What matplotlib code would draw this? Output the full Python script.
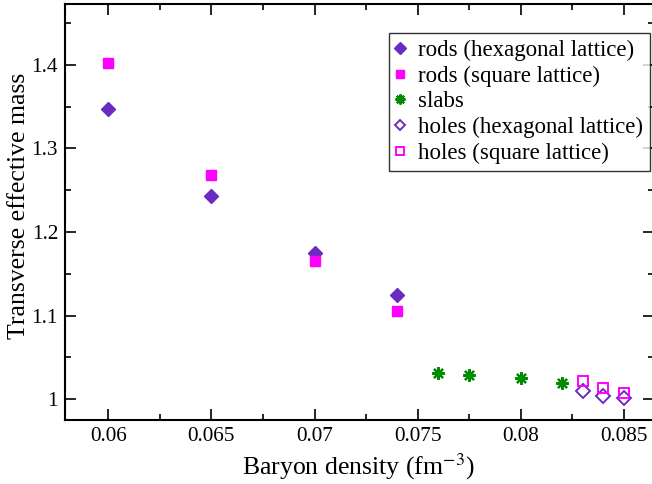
import numpy as np
import matplotlib.pyplot as plt
from matplotlib.ticker import MultipleLocator

# data
rods_hex_x = [0.06, 0.065, 0.07, 0.074]
rods_hex_y = [1.347, 1.243, 1.175, 1.125]
rods_sq_x = [0.06, 0.065, 0.07, 0.074]
rods_sq_y = [1.402, 1.268, 1.165, 1.105]
slabs_x = [0.076, 0.0775, 0.08, 0.082]
slabs_y = [1.031, 1.029, 1.025, 1.019]
holes_hex_x = [0.083, 0.084, 0.085]
holes_hex_y = [1.010, 1.004, 1.001]
holes_sq_x = [0.083, 0.084, 0.085]
holes_sq_y = [1.022, 1.013, 1.007]

purple = '#6a2cc0'
magenta = '#ff00ff'
green = '#008a00'

plt.rcParams['font.family'] = ['Liberation Serif', 'DejaVu Serif']
plt.rcParams['mathtext.fontset'] = 'stix'

fig = plt.figure(figsize=(6.52, 4.84), dpi=100)
ax = fig.add_axes([0.0997, 0.132, 0.9036, 0.860])

asterisk = (8, 2, 0)
ax.plot(rods_hex_x, rods_hex_y, 'D', color=purple, ms=7.5, ls='none', label='rods (hexagonal lattice)')
ax.plot(rods_sq_x, rods_sq_y, 's', color=magenta, ms=7, ls='none', label='rods (square lattice)')
ax.plot(slabs_x, slabs_y, marker=asterisk, color=green, mec=green, mew=1.6, ms=9, ls='none', label='slabs')
ax.plot(holes_hex_x, holes_hex_y, 'D', mfc='none', mec=purple, mew=1.4, ms=7, ls='none', label='holes (hexagonal lattice)')
ax.plot(holes_sq_x, holes_sq_y, 's', mfc='none', mec=magenta, mew=1.4, ms=7, ls='none', label='holes (square lattice)')

ax.set_xlim(0.0579, 0.08646)
ax.set_ylim(0.975, 1.473)
ax.xaxis.set_minor_locator(MultipleLocator(0.0025))
ax.yaxis.set_minor_locator(MultipleLocator(0.05))
ax.set_xticks([0.06, 0.065, 0.07, 0.075, 0.08, 0.085])
ax.set_xticklabels(['0.06', '0.065', '0.07', '0.075', '0.08', '0.085'])
ax.set_yticks([1.0, 1.1, 1.2, 1.3, 1.4])
ax.set_yticklabels(['1', '1.1', '1.2', '1.3', '1.4'])
ax.tick_params(which='both', direction='in', top=True, right=True, labelsize=15.3, width=1.2)
ax.tick_params(which='major', length=8, pad=5)
ax.tick_params(which='minor', length=4.5)
for s in ax.spines.values():
    s.set_linewidth(1.5)

ax.set_xlabel('Baryon density (fm$^{-3}$)', fontsize=18.5)
ax.xaxis.set_label_coords(0.497, -0.075)
ax.set_ylabel('Transverse effective mass', fontsize=18.5)
ax.yaxis.set_label_coords(-0.0594, 0.514)

leg = ax.legend(loc='upper right', bbox_to_anchor=(0.9935, 0.930), fontsize=16.5, frameon=True,
                fancybox=False, edgecolor='black', handlelength=0.4, handletextpad=0.6,
                labelspacing=0.2, borderpad=0.3, borderaxespad=0, markerscale=0.8)
leg.get_frame().set_linewidth(1.0)

fig.savefig('out.png', dpi=100)
